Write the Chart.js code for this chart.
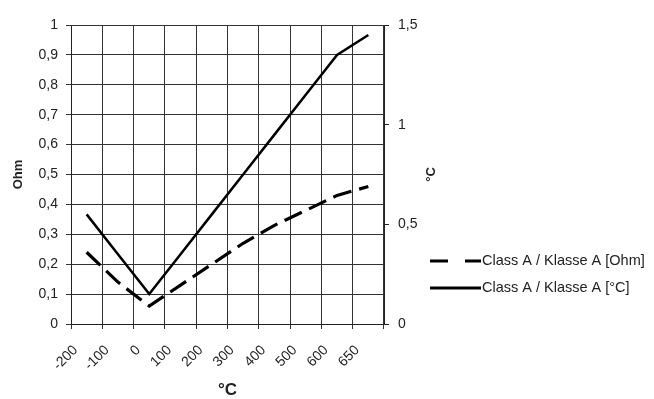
<!DOCTYPE html>
<html>
<head>
<meta charset="utf-8">
<script src="https://cdn.jsdelivr.net/npm/chart.js@4.4.1/dist/chart.umd.min.js"></script>
<style>
  html, body { margin: 0; padding: 0; background: #fff; }
</style>
</head>
<body>
<canvas id="chart" width="654" height="399"></canvas>
<script>
// Pt100 class A tolerance
const temperatures = ['-200', '-100', '0', '100', '200', '300', '400', '500', '600', '650'];
const toleranceOhm = [0.24, 0.14, 0.06, 0.13, 0.20, 0.27, 0.33, 0.38, 0.43, 0.46];
const toleranceDegC = [0.55, 0.35, 0.15, 0.35, 0.55, 0.75, 0.95, 1.15, 1.35, 1.45];
const seriesLabels = ['Class A / Klasse A [Ohm]', 'Class A / Klasse A [°C]'];

const FONT = "'Liberation Sans', Arial, sans-serif";
const INK = '#222';
const GRID = '#333';

// decimal comma like the original
const comma = v => String(Math.round(v * 10) / 10).replace('.', ',');

// right axis title reads bottom-to-top, legend sits low on the right
const extras = {
    id: 'extras',
    afterDraw(chart) {
        const ctx = chart.ctx;
        const y1 = chart.scales.y1;
        ctx.save();
        ctx.fillStyle = INK;
        ctx.font = 'bold 13px ' + FONT;
        ctx.textAlign = 'center';
        ctx.textBaseline = 'middle';
        ctx.translate(431, (y1.top + y1.bottom) / 2);
        ctx.rotate(-Math.PI / 2);
        ctx.fillText('°C', 0, 0);
        ctx.restore();

        chart.data.datasets.forEach((ds, i) => {
            const y = 261 + i * 27;
            ctx.save();
            ctx.strokeStyle = ds.borderColor;
            ctx.lineWidth = 3;
            ctx.setLineDash(ds.borderDash ? [18, 17] : []);
            ctx.beginPath();
            ctx.moveTo(430, y);
            ctx.lineTo(481, y);
            ctx.stroke();
            ctx.fillStyle = INK;
            ctx.font = '14.5px ' + FONT;
            ctx.textBaseline = 'middle';
            ctx.fillText(ds.label, 482, y);
            ctx.restore();
        });
    }
};

new Chart(document.getElementById('chart'), {
    type: 'line',
    data: {
        labels: temperatures,
        datasets: [
            {
                label: seriesLabels[0],
                data: toleranceOhm,
                yAxisID: 'y',
                borderColor: '#000',
                borderWidth: 3.2,
                borderDash: [19, 8],
                pointRadius: 0,
                tension: 0,
                fill: false
            },
            {
                label: seriesLabels[1],
                data: toleranceDegC,
                yAxisID: 'y1',
                borderColor: '#000',
                borderWidth: 2.5,
                pointRadius: 0,
                tension: 0,
                fill: false
            }
        ]
    },
    options: {
        responsive: false,
        animation: false,
        layout: { padding: { left: 0, right: 220, top: 25, bottom: 0 } },
        plugins: {
            legend: { display: false },
            tooltip: { enabled: false }
        },
        scales: {
            x: {
                offset: true,
                grid: { offset: true, color: GRID, tickColor: GRID, tickLength: 5 },
                border: { color: INK },
                ticks: {
                    color: INK,
                    font: { family: FONT, size: 14 },
                    minRotation: 45,
                    maxRotation: 45,
                    padding: 13,
                    labelOffset: -11
                },
                title: {
                    display: true,
                    text: '°C',
                    color: INK,
                    font: { family: FONT, size: 17, weight: 'bold', lineHeight: 1 },
                    padding: { top: 0, bottom: 0 }
                },
                afterFit(s) { s.height = 75; }
            },
            y: {
                position: 'left',
                min: 0,
                max: 1,
                ticks: {
                    stepSize: 0.1,
                    color: INK,
                    font: { family: FONT, size: 14 },
                    padding: 8,
                    callback: comma
                },
                grid: { color: GRID, tickColor: GRID, tickLength: 5 },
                border: { color: INK },
                title: {
                    display: true,
                    text: 'Ohm',
                    color: INK,
                    font: { family: FONT, size: 13, weight: 'bold' },
                    padding: { top: 11, bottom: 0 }
                },
                afterFit(s) { s.width = 71; }
            },
            y1: {
                position: 'right',
                min: 0,
                max: 1.5,
                ticks: {
                    stepSize: 0.5,
                    color: INK,
                    font: { family: FONT, size: 14 },
                    padding: 9,
                    callback: comma
                },
                grid: { drawOnChartArea: false, tickColor: INK, tickLength: 5 },
                border: { color: INK },
                afterFit(s) { s.width = 50; }
            }
        }
    },
    plugins: [extras]
});
</script>
</body>
</html>
